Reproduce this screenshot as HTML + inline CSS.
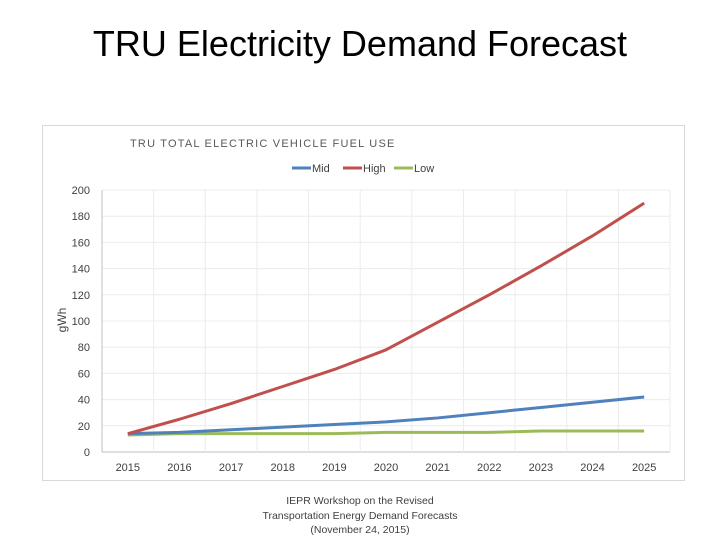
<!DOCTYPE html>
<html><head><meta charset="utf-8"><style>
body{margin:0;width:720px;height:540px;background:#fff;font-family:"Liberation Sans",sans-serif;overflow:hidden}
</style></head><body>
<svg width="720" height="540">
<text x="360" y="56" font-size="36" text-anchor="middle" fill="#000">TRU Electricity Demand Forecast</text>
<rect x="42.5" y="125.5" width="642" height="355" fill="#fff" stroke="#d9d9d9"/>
<text x="130" y="147" font-size="11" letter-spacing="1.2" fill="#595959">TRU TOTAL ELECTRIC VEHICLE FUEL USE</text>
<g id="legend"></g>
<g id="grid"></g><g id="axes"></g><g id="series"></g>
<text transform="translate(66,320) rotate(-90)" font-size="12" text-anchor="middle" fill="#404040">gWh</text>
<text x="360" y="504" font-size="10.5" text-anchor="middle" fill="#404040">IEPR Workshop on the Revised</text>
<text x="360" y="519" font-size="10.5" text-anchor="middle" fill="#404040">Transportation Energy Demand Forecasts</text>
<text x="360" y="533" font-size="10.5" text-anchor="middle" fill="#404040">(November 24, 2015)</text>
</svg>
<script>
const years=[2015,2016,2017,2018,2019,2020,2021,2022,2023,2024,2025];
const high=[14,25,37,50,63,78,99,120,142,165,190];
const mid=[14,15,17,19,21,23,26,30,34,38,42];
const low=[13,14,14,14,14,15,15,15,16,16,16];
const yTicks=[0,20,40,60,80,100,120,140,160,180,200];
const NS="http://www.w3.org/2000/svg";
const L=102,R=670,T=190,B=452;
const step=(R-L)/years.length;
const x=i=>L+step*(i+0.5);
const y=v=>B-(v/200)*(B-T);
function mk(tag,attrs,parent,txt){const e=document.createElementNS(NS,tag);for(const k in attrs)e.setAttribute(k,attrs[k]);if(txt!==undefined)e.textContent=txt;document.getElementById(parent).appendChild(e);return e;}
yTicks.forEach(v=>{
 const g=mk('line',{x1:L,x2:R,y1:y(v),y2:y(v),stroke:v===0?'#bfbfbf':'#ececec'},'grid');
 
 
 const t=mk('text',{x:90,y:y(v)+4,'font-size':11,'text-anchor':'end',fill:'#404040'},'axes',v);
 
 
});
for(let i=0;i<=years.length;i++){
 const g=mk('line',{x1:L+step*i,x2:L+step*i,y1:T,y2:B,stroke:i===0?'#bfbfbf':'#ececec'},'grid');
 
 
}
years.forEach((yr,i)=>{
 const t=mk('text',{x:x(i),y:471,'font-size':11,'text-anchor':'middle',fill:'#404040'},'axes',yr);
 
 
});
const series=[['low',low,'#9bbb59'],['mid',mid,'#4f81bd'],['high',high,'#c0504d']];
series.forEach(([n,d,c])=>{
 const p=mk('polyline',{points:d.map((v,i)=>x(i)+','+y(v)).join(' '),fill:'none',stroke:c,'stroke-width':3,'stroke-linejoin':'round'},'series');
 
 
});
const leg=[['Mid','#4f81bd',292],['High','#c0504d',343],['Low','#9bbb59',394]];
leg.forEach(([n,c,lx])=>{
 const l=mk('line',{x1:lx,x2:lx+19,y1:168,y2:168,stroke:c,'stroke-width':3},'legend');
 
 
 const t=mk('text',{x:lx+20,y:172,'font-size':11,fill:'#404040'},'legend',n);
 
 
});
</script>
</body></html>
